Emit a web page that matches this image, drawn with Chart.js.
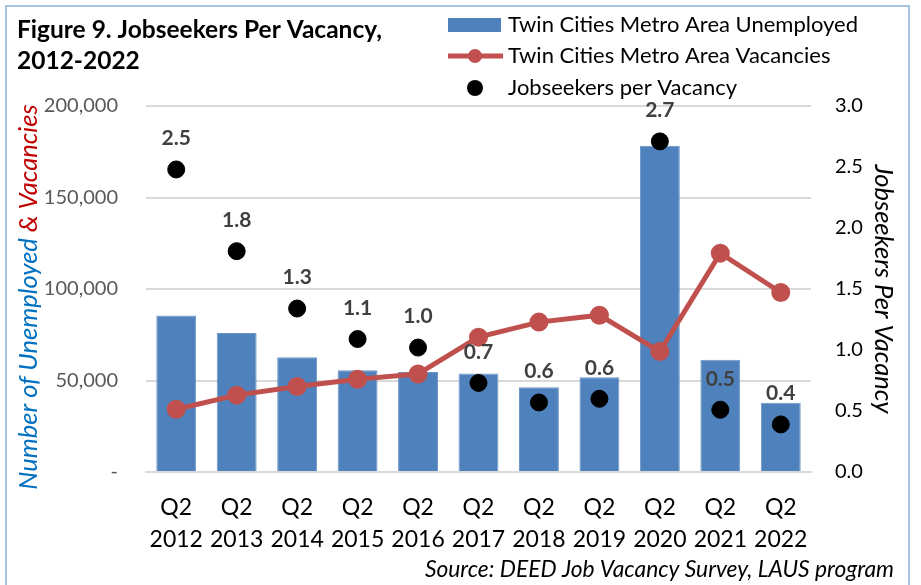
<!DOCTYPE html>
<html>
<head>
<meta charset="utf-8">
<script src="https://cdn.jsdelivr.net/npm/chart.js@4.4.0/dist/chart.umd.min.js"></script>
<style>
html,body{margin:0;padding:0;background:#fff;}
#wrap{position:relative;width:921px;height:585px;overflow:hidden;}
#frame{position:absolute;left:5px;top:5px;width:901px;height:620px;border:2px solid #a9c3e4;}
canvas{position:absolute;left:0;top:0;}
</style>
</head>
<body>
<div id="wrap"><div id="frame"></div><canvas id="c" width="921" height="585"></canvas></div>
<script>
// values
const quarters = ["Q2","Q2","Q2","Q2","Q2","Q2","Q2","Q2","Q2","Q2","Q2"];
const years = ["2012","2013","2014","2015","2016","2017","2018","2019","2020","2021","2022"];
const unemployed = [85500,76000,62700,55600,54700,53800,46300,51800,178300,61400,37900];
const vacancies = [34300,42000,46700,50700,53600,73700,81900,85700,65800,119600,98100];
const perVacancy = [2.48,1.81,1.34,1.09,1.02,0.73,0.57,0.60,2.71,0.51,0.39];
const seriesNames = ["Twin Cities Metro Area Unemployed","Twin Cities Metro Area Vacancies","Jobseekers per Vacancy"];
const titleLines = ["Figure 9. Jobseekers Per Vacancy,","2012-2022"];
const sourceNote = "Source: DEED Job Vacancy Survey, LAUS program";

const FONT = "Lato";
const labels = years.map((y,i)=>[quarters[i],y]);

// text drawn straight on the canvas: title, legend, left axis title, point labels, source
const extras = {
  id:"extras",
  afterDatasetsDraw(chart){
    const ctx = chart.ctx;
    const meta = chart.getDatasetMeta(2);
    ctx.save();
    ctx.font = "bold 21px "+FONT;
    ctx.fillStyle = "#404040";
    ctx.textAlign = "center";
    ctx.textBaseline = "middle";
    meta.data.forEach((pt,i)=>{
      ctx.fillText(perVacancy[i].toFixed(1), pt.x, pt.y-31);
    });
    ctx.restore();
  },
  afterDraw(chart){
    const ctx = chart.ctx;
    const ds = chart.data.datasets;
    ctx.save();
    // title
    ctx.fillStyle = "#000";
    ctx.font = "bold 24.5px "+FONT;
    ctx.textBaseline = "middle";
    ctx.textAlign = "left";
    ctx.fillText(titleLines[0], 17, 30);
    ctx.fillText(titleLines[1], 17, 61);

    // legend
    ctx.font = "22px "+FONT;
    ctx.fillStyle = ds[0].backgroundColor;
    ctx.fillRect(448,18,53,14);
    ctx.strokeStyle = ds[1].borderColor;
    ctx.lineWidth = 5;
    ctx.beginPath(); ctx.moveTo(448,56); ctx.lineTo(503,56); ctx.stroke();
    ctx.fillStyle = ds[1].pointBackgroundColor;
    ctx.beginPath(); ctx.arc(475,56,7,0,Math.PI*2); ctx.fill();
    ctx.fillStyle = ds[2].pointBackgroundColor;
    ctx.beginPath(); ctx.arc(475,88,8,0,Math.PI*2); ctx.fill();
    ctx.fillStyle = "#000";
    ctx.fillText(seriesNames[0], 508, 25);
    ctx.fillText(seriesNames[1], 508, 56);
    ctx.fillText(seriesNames[2], 508, 88);

    // left axis title, two colours
    const a = chart.chartArea;
    ctx.translate(29, 297);
    ctx.rotate(-Math.PI/2);
    ctx.font = "italic 25.5px "+FONT;
    const p1 = "Number of Unemployed ", p2 = "& Vacancies";
    const w1 = ctx.measureText(p1).width, w2 = ctx.measureText(p2).width;
    let x = -(w1+w2)/2;
    ctx.fillStyle = "#0070c0";
    ctx.fillText(p1, x, 0);
    ctx.fillStyle = "#c00000";
    ctx.fillText(p2, x+w1, 0);
    ctx.restore();

    // source
    ctx.save();
    ctx.font = "italic 22.8px "+FONT;
    ctx.fillStyle = "#000";
    ctx.textAlign = "right";
    ctx.textBaseline = "middle";
    ctx.fillText(sourceNote, 894, 570);
    ctx.restore();
  }
};

new Chart(document.getElementById("c"), {
  data:{
    labels: labels,
    datasets:[
      {type:"bar", label:seriesNames[0], data:unemployed, yAxisID:"y", order:2,
       backgroundColor:"#4f81bd", borderColor:"#6d96c8", borderWidth:1,
       barPercentage:0.66, categoryPercentage:1},
      {type:"line", label:seriesNames[1], data:vacancies, yAxisID:"y", order:1,
       borderColor:"#c0504d", borderWidth:5, pointRadius:7,
       pointBackgroundColor:"#c0504d", pointBorderColor:"#c0504d", tension:0},
      {type:"line", label:seriesNames[2], data:perVacancy, yAxisID:"y1", order:0,
       showLine:false, pointRadius:8.5, pointBackgroundColor:"#000", pointBorderColor:"#000"}
    ]
  },
  options:{
    responsive:false,
    animation:false,
    layout:{padding:{top:106,left:0,right:0,bottom:0}},
    plugins:{legend:{display:false}, tooltip:{enabled:false}, title:{display:false}},
    scales:{
      x:{
        grid:{display:false, drawTicks:false},
        border:{display:true, color:"#d9d9d9", width:2},
        ticks:{color:"#000", font:{family:FONT, size:23, lineHeight:1.39}, padding:20, maxRotation:0, autoSkip:false},
        afterFit(s){ s.height = 113; }
      },
      y:{
        position:"left", min:0, max:200000,
        grid:{color:"#d9d9d9", lineWidth:2, drawTicks:false},
        border:{display:false},
        ticks:{stepSize:50000, color:"#595959", padding:28, font:{family:FONT, size:20},
          callback:v=> v===0 ? "-" : v.toLocaleString("en-US")},
        afterFit(s){ s.width = 146; }
      },
      y1:{
        position:"right", min:0, max:3,
        grid:{display:false, drawTicks:false},
        border:{display:false},
        ticks:{stepSize:0.5, color:"#000", padding:24, font:{family:FONT, size:20},
          callback:v=> v.toFixed(1)},
        title:{display:true, text:"Jobseekers Per Vacancy", color:"#000",
          font:{family:FONT, size:25.5, style:"italic"}, padding:{top:22,bottom:0}},
        afterFit(s){ s.width = 110; }
      }
    }
  },
  plugins:[extras]
});
</script>
</body>
</html>
